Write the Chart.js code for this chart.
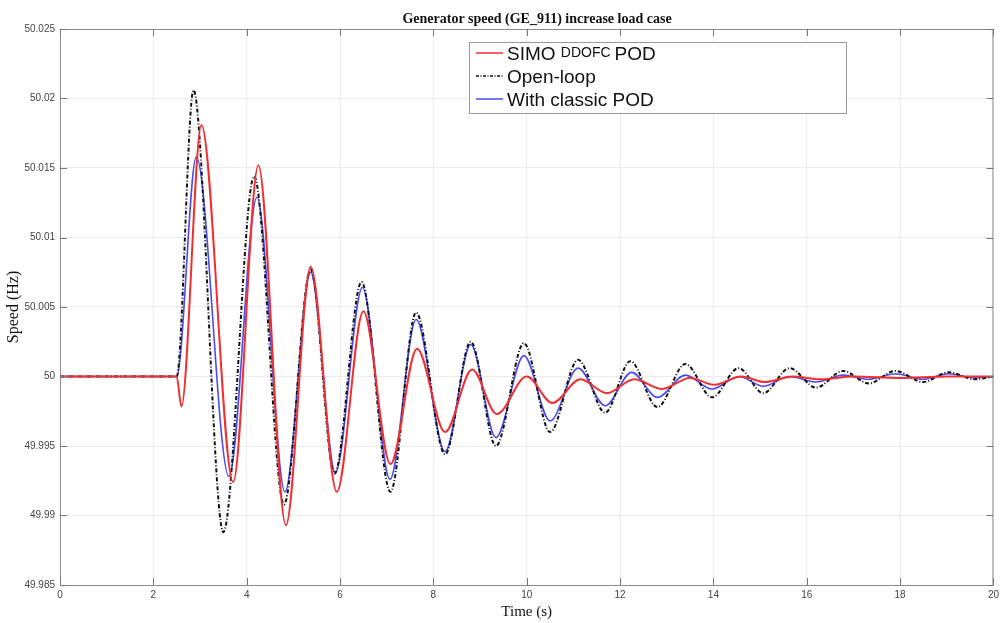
<!DOCTYPE html>
<html>
<head>
<meta charset="utf-8">
<script src="https://cdn.jsdelivr.net/npm/chart.js@4/dist/chart.umd.min.js"></script>
<style>
  html, body { margin: 0; padding: 0; background: #ffffff; }
  #wrap { width: 1003px; height: 623px; }
</style>
</head>
<body>
<div id="wrap"><canvas id="c" width="1003" height="623"></canvas></div>
<script>
// ---- data ----
const chartTitle = "Generator speed (GE_911) increase load case";
const xTitle = "Time (s)";
const yTitle = "Speed (Hz)";
const seriesNames = ["SIMO", "DDOFC", "POD", "Open-loop", "With classic POD"];

const xTicks = [0, 2, 4, 6, 8, 10, 12, 14, 16, 18, 20];
const yTicks = [49.985, 49.99, 49.995, 50, 50.005, 50.01, 50.015, 50.02, 50.025];
const yTickLabels = ["49.985", "49.99", "49.995", "50", "50.005", "50.01", "50.015", "50.02", "50.025"];

// SIMO DDOFC POD (red)
const redT = [0, 2.5, 2.6, 3.03, 3.71, 4.25, 4.84, 5.37, 5.93, 6.5, 7.08, 7.65, 8.25, 8.83, 9.36, 10.0, 10.55, 11.15, 11.72, 12.3, 12.9, 13.5, 14.02, 14.6, 15.1, 15.7, 16.3, 17.0, 18.0, 19.0, 20.0];
const redV = [50, 50, 49.99784, 50.0181, 49.9924, 50.0152, 49.9893, 50.0079, 49.9917, 50.0047, 49.9937, 50.0020, 49.9960, 50.0005, 49.9973, 50.0000, 49.9981, 49.9998, 49.9988, 49.9998, 49.9991, 49.9999, 49.9994, 50.0000, 49.9996, 50.0000, 49.9998, 50.0000, 49.9999, 50.0000, 50.0000];

// Open-loop (black dash-dot)
const blackT = [0, 2.5, 2.86, 3.5, 4.16, 4.8, 5.37, 5.88, 6.46, 7.08, 7.63, 8.25, 8.8, 9.34, 9.94, 10.5, 11.1, 11.68, 12.22, 12.8, 13.4, 13.97, 14.54, 15.07, 15.63, 16.2, 16.78, 17.33, 17.9, 18.49, 19.04, 19.6, 20.0];
const blackV = [50, 50, 50.0206, 49.9888, 50.0144, 49.9908, 50.0077, 49.9930, 50.0068, 49.9917, 50.0046, 49.9944, 50.0025, 49.9950, 50.0024, 49.9960, 50.0012, 49.9974, 50.0011, 49.9978, 50.0009, 49.9985, 50.0006, 49.9988, 50.0006, 49.9992, 50.0004, 49.9995, 50.0004, 49.9996, 50.0003, 49.9998, 50.0000];

// With classic POD (blue)
const blueT = [0, 2.5, 2.92, 3.62, 4.22, 4.82, 5.37, 5.9, 6.48, 7.07, 7.63, 8.25, 8.8, 9.34, 9.94, 10.5, 11.1, 11.68, 12.25, 12.8, 13.4, 13.97, 14.55, 15.07, 15.63, 16.2, 16.78, 17.33, 17.9, 18.49, 19.04, 19.6, 20.0];
const blueV = [50, 50, 50.0158, 49.9928, 50.0129, 49.9917, 50.0075, 49.9931, 50.0064, 49.9926, 50.0041, 49.9946, 50.0023, 49.9956, 50.0015, 49.9968, 50.0006, 49.9979, 50.0003, 49.9985, 50.0001, 49.9991, 50.0000, 49.9993, 50.0000, 49.9996, 50.0001, 49.9998, 50.0002, 49.9998, 50.0002, 49.9999, 50.0000];

const pts = (t, v) => t.map((x, i) => ({ x: x, y: v[i] }));

const frameColor = "#8c8c8c";

const framePlugin = {
  id: "frame",
  afterDatasetsDraw(chart) {
    const { ctx, chartArea: a, scales } = chart;
    ctx.save();
    ctx.strokeStyle = frameColor;
    ctx.lineWidth = 1;
    ctx.strokeRect(a.left + 0.5, a.top + 0.5, a.right - a.left - 1, a.bottom - a.top);
    ctx.strokeStyle = "#777";
    ctx.beginPath();
    xTicks.forEach(v => {
      const px = Math.round(scales.x.getPixelForValue(v)) + 0.5;
      ctx.moveTo(px, a.bottom); ctx.lineTo(px, a.bottom - 7);
      ctx.moveTo(px, a.top); ctx.lineTo(px, a.top + 7);
    });
    yTicks.forEach(v => {
      const py = Math.round(scales.y.getPixelForValue(v)) + 0.5;
      ctx.moveTo(a.left, py); ctx.lineTo(a.left + 7, py);
      ctx.moveTo(a.right, py); ctx.lineTo(a.right - 7, py);
    });
    ctx.stroke();
    ctx.restore();
  },
  afterDraw(chart) {
    const { ctx, chartArea: a } = chart;
    ctx.save();
    // title
    ctx.fillStyle = "#111";
    ctx.font = "bold 14px 'Liberation Serif', 'Times New Roman', serif";
    ctx.textAlign = "center";
    ctx.textBaseline = "alphabetic";
    ctx.fillText(chartTitle, 537, 23);

    // legend box
    const bx = 469, by = 42, bw = 377, bh = 71;
    ctx.fillStyle = "#ffffff";
    ctx.fillRect(bx, by, bw, bh);
    ctx.strokeStyle = "#999";
    ctx.lineWidth = 1;
    ctx.strokeRect(bx + 0.5, by + 0.5, bw, bh);

    const rows = [
      { color: "#f03030", dash: [], width: 1.5, y: 53 },
      { color: "#111111", dash: [3, 1.5, 1, 1.5], width: 1.5, y: 76 },
      { color: "#4b4bf0", dash: [], width: 1.5, y: 99 }
    ];
    rows.forEach(r => {
      ctx.beginPath();
      ctx.strokeStyle = r.color;
      ctx.lineWidth = r.width;
      ctx.setLineDash(r.dash);
      ctx.moveTo(476, r.y); ctx.lineTo(503, r.y);
      ctx.stroke();
    });
    ctx.setLineDash([]);
    ctx.fillStyle = "#111";
    ctx.textAlign = "left";
    ctx.textBaseline = "alphabetic";
    const big = "19px 'Liberation Sans', Arial, sans-serif";
    const small = "14px 'Liberation Sans', Arial, sans-serif";
    let x = 507;
    ctx.font = big;
    ctx.fillText(seriesNames[0], x, 60);
    x += ctx.measureText(seriesNames[0] + " ").width;
    ctx.font = small;
    ctx.fillText(seriesNames[1], x, 57);
    x += ctx.measureText(seriesNames[1]).width + 4;
    ctx.font = big;
    ctx.fillText(seriesNames[2], x, 60);
    ctx.fillText(seriesNames[3], 507, 83);
    ctx.fillText(seriesNames[4], 507, 106);
    ctx.restore();
  }
};

new Chart(document.getElementById("c"), {
  type: "line",
  data: {
    datasets: [
      {
        label: seriesNames.slice(0, 3).join(" "),
        data: pts(redT, redV),
        borderColor: "#f03030",
        borderWidth: 2,
        pointRadius: 0,
        cubicInterpolationMode: "monotone",
        fill: false
      },
      {
        label: seriesNames[3],
        data: pts(blackT, blackV),
        borderColor: "#111111",
        borderWidth: 2,
        borderDash: [4, 2, 1, 2],
        pointRadius: 0,
        cubicInterpolationMode: "monotone",
        fill: false
      },
      {
        label: seriesNames[4],
        data: pts(blueT, blueV),
        borderColor: "#4b4bf0",
        borderWidth: 1.6,
        pointRadius: 0,
        cubicInterpolationMode: "monotone",
        fill: false
      }
    ]
  },
  options: {
    responsive: false,
    animation: false,
    devicePixelRatio: 1,
    layout: { padding: { top: 29, right: 5, left: 0, bottom: 0 } },
    plugins: {
      legend: { display: false },
      title: { display: false },
      tooltip: { enabled: false }
    },
    scales: {
      x: {
        type: "linear",
        min: 0, max: 20,
        afterBuildTicks: s => { s.ticks = xTicks.map(v => ({ value: v })); },
        afterFit: s => { s.height = 38; },
        grid: { color: "#ececec", drawTicks: false },
        border: { display: false },
        ticks: {
          autoSkip: false, maxRotation: 0, padding: 4,
          color: "#444",
          font: { family: "'Liberation Sans', Arial, sans-serif", size: 10 },
          callback: v => String(v)
        },
        title: {
          display: true, text: xTitle, color: "#111",
          font: { family: "'Liberation Serif', 'Times New Roman', serif", size: 15 },
          padding: { top: 0, bottom: 2 }
        }
      },
      y: {
        type: "linear",
        min: 49.985, max: 50.025,
        afterBuildTicks: s => { s.ticks = yTicks.map(v => ({ value: v })); },
        afterFit: s => { s.width = 60; },
        grid: { color: "#ececec", drawTicks: false },
        border: { display: false },
        ticks: {
          padding: 5,
          color: "#444",
          font: { family: "'Liberation Sans', Arial, sans-serif", size: 10 },
          callback: v => {
            const i = yTicks.findIndex(t => Math.abs(t - v) < 1e-7);
            return i >= 0 ? yTickLabels[i] : "";
          }
        },
        title: {
          display: true, text: yTitle, color: "#111",
          font: { family: "'Liberation Serif', 'Times New Roman', serif", size: 16 },
          padding: { top: 4, bottom: 0 }
        }
      }
    }
  },
  plugins: [framePlugin]
});
</script>
</body>
</html>
